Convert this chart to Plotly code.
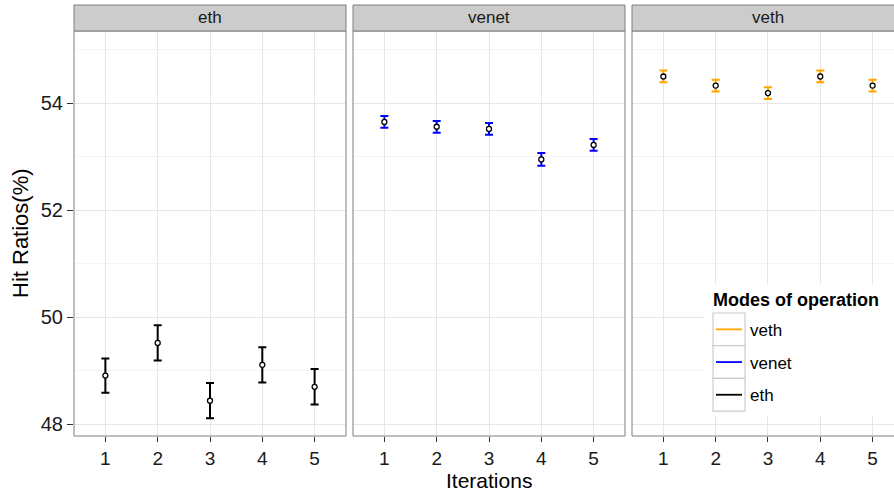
import plotly.graph_objects as go

# ---------------- data ----------------
iterations = [1, 2, 3, 4, 5]
panels = ["eth", "venet", "veth"]
eth_mean = [48.91, 49.52, 48.44, 49.11, 48.70]
eth_err = [0.32, 0.33, 0.33, 0.33, 0.33]
venet_mean = [53.65, 53.56, 53.52, 52.95, 53.22]
venet_err = [0.11, 0.11, 0.11, 0.12, 0.11]
veth_mean = [54.50, 54.33, 54.19, 54.50, 54.33]
veth_err = [0.11, 0.11, 0.11, 0.11, 0.11]
colors = {"eth": "#000000", "venet": "#0000FF", "veth": "#FFA500"}
legend_order = ["veth", "venet", "eth"]
legend_title = "Modes of operation"
y_ticks = [48, 50, 52, 54]

series = {"eth": (eth_mean, eth_err), "venet": (venet_mean, venet_err), "veth": (veth_mean, veth_err)}

# ---------------- layout geometry (pixels) ----------------
W, H = 894, 493
ML, MR, MT, MB = 74, 0, 31, 57
PW, PH = W - ML - MR, H - MT - MB
def px(x):
    return (x - ML) / PW
def py(y):
    return (H - MB - y) / PH

panel_px = [(74, 346), (353, 625), (632, 894)]
xranges = [[0.4, 5.6], [0.4, 5.6], [0.4, 0.4 + 262 / 52.3]]

FONT = "Liberation Sans, Arial, Helvetica, sans-serif"
GRID = "#e6e6e6"
MINOR = "#f4f4f4"
BORDER = "#7f7f7f"

fig = go.Figure()
for i, name in enumerate(panels):
    m, e = series[name]
    xa = "x" if i == 0 else f"x{i+1}"
    ya = "y" if i == 0 else f"y{i+1}"
    fig.add_trace(go.Scatter(
        x=iterations, y=m, xaxis=xa, yaxis=ya, mode="markers",
        marker=dict(symbol="circle", size=5, color="white",
                    line=dict(color="black", width=1.3)),
        error_y=dict(type="data", array=e, visible=True, color=colors[name],
                     thickness=2, width=4),
        showlegend=False, name=name,
    ))

layout = dict(
    width=W, height=H, margin=dict(l=ML, r=MR, t=MT, b=MB),
    paper_bgcolor="white", plot_bgcolor="white", showlegend=False,
    font=dict(family=FONT, color="#000000"),
)
for i in range(3):
    sx = "xaxis" if i == 0 else f"xaxis{i+1}"
    sy = "yaxis" if i == 0 else f"yaxis{i+1}"
    a, b = panel_px[i]
    layout[sx] = dict(
        domain=[px(a), min(px(b), 1.0)], range=xranges[i], tickvals=iterations,
        ticktext=[str(v) for v in iterations],
        showgrid=True, gridcolor=GRID, gridwidth=1, zeroline=False,
        ticks="outside", ticklen=5, tickwidth=1.4, tickcolor="#333333",
        tickfont=dict(size=19, color="#1a1a1a", family=FONT),
        anchor="y" if i == 0 else f"y{i+1}", fixedrange=True,
    )
    ydict = dict(
        domain=[0, 1], range=[47.78, 55.35], tickvals=y_ticks,
        showgrid=True, gridcolor=GRID, gridwidth=1, zeroline=False,
        minor=dict(dtick=1, tick0=47, showgrid=True, gridcolor=MINOR, ticks=""),
        anchor="x" if i == 0 else f"x{i+1}", fixedrange=True,
    )
    if i == 0:
        ydict.update(ticks="outside", ticklen=6, tickwidth=1.4, tickcolor="#333333",
                     tickfont=dict(size=20, color="#1a1a1a", family=FONT))
    else:
        ydict.update(showticklabels=False, ticks="", matches="y")
    layout[sy] = ydict
fig.update_layout(**layout)

shapes = []
annotations = []
strip_top = py(5)
for i, name in enumerate(panels):
    a, b = panel_px[i]
    b_full = a + 272
    # panel border
    shapes.append(dict(type="rect", xref="paper", yref="paper", x0=px(a), x1=px(b_full),
                       y0=0, y1=1, line=dict(color=BORDER, width=1), layer="above"))
    # strip
    shapes.append(dict(type="rect", xref="paper", yref="paper", x0=px(a), x1=px(b_full),
                       y0=1, y1=strip_top, fillcolor="#cccccc",
                       line=dict(color=BORDER, width=1), layer="above"))
    annotations.append(dict(text=name, xref="paper", yref="paper",
                            x=px((a + b_full) / 2), y=(1 + strip_top) / 2,
                            xanchor="center", yanchor="middle", showarrow=False,
                            font=dict(size=17, color="#1a1a1a", family=FONT)))

# axis titles
annotations.append(dict(text="Iterations", xref="paper", yref="paper", x=px(489), y=py(493),
                        xanchor="center", yanchor="bottom", showarrow=False, borderpad=0,
                        font=dict(size=21, color="#000000", family=FONT)))
annotations.append(dict(text="Hit Ratios(%)", xref="paper", yref="paper", x=px(20), y=py(233),
                        xanchor="center", yanchor="middle", showarrow=False, textangle=-90,
                        font=dict(size=22, color="#000000", family=FONT)))

# legend (drawn manually, ggplot style)
shapes.append(dict(type="rect", xref="paper", yref="paper", x0=px(705), x1=px(900),
                   y0=py(416), y1=py(284), fillcolor="white", line=dict(width=0), layer="above"))
annotations.append(dict(text="<b>" + legend_title + "</b>", xref="paper", yref="paper",
                        x=px(711), y=py(300), xanchor="left", yanchor="middle", showarrow=False,
                        font=dict(size=18, color="#000000", family=FONT)))
box_top = 313
box_h = 32.7
for k, name in enumerate(legend_order):
    y0 = box_top + k * box_h
    y1 = y0 + box_h
    yc = (y0 + y1) / 2
    shapes.append(dict(type="rect", xref="paper", yref="paper", x0=px(713), x1=px(745),
                       y0=py(y1), y1=py(y0), fillcolor="white",
                       line=dict(color="#cccccc", width=1.2), layer="above"))
    shapes.append(dict(type="line", xref="paper", yref="paper", x0=px(716), x1=px(742),
                       y0=py(yc), y1=py(yc), line=dict(color=colors[name], width=1.8),
                       layer="above"))
    annotations.append(dict(text=name, xref="paper", yref="paper", x=px(748), y=py(yc + 1),
                            xanchor="left", yanchor="middle", showarrow=False,
                            font=dict(size=17, color="#000000", family=FONT)))

fig.update_layout(shapes=shapes, annotations=annotations)
fig.write_html("out.html")
